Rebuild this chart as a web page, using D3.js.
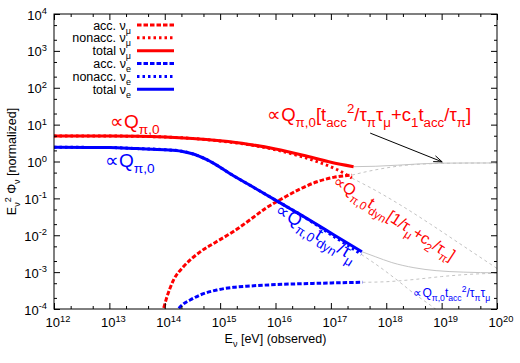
<!DOCTYPE html>
<html lang="en">
<head>
<meta charset="utf-8">
<title>Neutrino spectra</title>
<script src="https://cdn.jsdelivr.net/npm/d3@7"></script>
<style>
  body { margin: 0; background: #fff; }
  svg { font-family: "Liberation Sans", Arial, sans-serif; }
  .tick text { display: none; }
  .domain { display: none; }
</style>
</head>
<body>
<script>
// axis decades (log10)
var xDecades = [12, 13, 14, 15, 16, 17, 18, 19, 20];
var yDecades = [-4, -3, -2, -1, 0, 1, 2, 3, 4];

// curves: log10(E/eV) and log10(flux)
var totMuE = [12, 13, 13.5, 14, 14.5, 15, 15.5, 16, 16.5, 17, 17.41];
var totMuF = [0.69, 0.69, 0.685, 0.665, 0.625, 0.56, 0.47, 0.34, 0.17, -0.02, -0.14];
var nonMuE = [12, 13, 14, 15, 15.5, 16, 16.5, 16.8, 17.1, 17.38];
var nonMuF = [0.69, 0.69, 0.665, 0.555, 0.46, 0.32, 0.12, -0.03, -0.21, -0.45];
var accMuE = [13.9, 13.975, 14.04, 14.16, 14.34, 14.64, 14.94, 15.24, 15.54, 15.84, 16.14, 16.45, 16.75, 17.05, 17.38];
var accMuF = [-4.3, -4.0, -3.67, -3.21, -2.85, -2.45, -2.17, -1.9, -1.58, -1.25, -0.99, -0.74, -0.55, -0.43, -0.37];

var totEE = [12, 13, 13.5, 14, 14.3, 14.5, 14.76, 15.24, 15.54, 15.84, 16.14, 16.45, 16.75, 17.05, 17.56];
var totEF = [0.385, 0.38, 0.35, 0.32, 0.28, 0.21, 0.05, -0.385, -0.646, -0.908, -1.17, -1.44, -1.71, -1.985, -2.446];
var nonEE = [12, 13, 13.5, 14, 14.3, 14.5, 14.76, 15.24, 15.54, 15.84, 16.14, 16.45, 16.75, 17.05, 17.3, 17.55];
var nonEF = [0.385, 0.38, 0.35, 0.32, 0.28, 0.21, 0.05, -0.385, -0.646, -0.908, -1.17, -1.44, -1.73, -2.03, -2.27, -2.52];
var accEE = [14.15, 14.247, 14.337, 14.458, 14.639, 14.941, 15.241, 15.542, 16.144, 16.748, 17.1, 17.57];
var accEF = [-4.3, -4.0, -3.864, -3.756, -3.62, -3.485, -3.412, -3.376, -3.33, -3.303, -3.29, -3.276];

// thin grey extrapolations
var gTotMuE = [17.41, 17.8, 18.2, 18.6, 19, 19.5, 20];
var gTotMuF = [-0.14, -0.13, -0.1, -0.065, -0.045, -0.04, -0.04];
var gAccMuE = [17.38, 17.6, 17.9, 18.3, 18.8, 19.3, 20];
var gAccMuF = [-0.37, -0.29, -0.2, -0.11, -0.06, -0.045, -0.04];
var gNonMuE = [17.38, 17.8, 18.3, 18.8, 19.3, 20];
var gNonMuF = [-0.45, -0.78, -1.22, -1.7, -2.2, -2.9];
var gTotEE = [17.56, 17.8, 18.1, 18.5, 18.9, 19.4, 20];
var gTotEF = [-2.446, -2.58, -2.74, -2.88, -2.96, -3.0, -3.02];
var gAccEE = [17.57, 18.0, 18.5, 19.0, 19.5, 20];
var gAccEF = [-3.276, -3.26, -3.2, -3.12, -3.06, -3.03];
var gNonEE = [17.55, 17.9, 18.2, 18.5, 18.8, 19.1];
var gNonEF = [-2.52, -2.88, -3.22, -3.58, -3.9, -4.25];

var W = 520, H = 363;
var L = 54, R = 497, T = 14, B = 309;

var x = d3.scaleLog().domain([1e12, 1e20]).range([L, R]);
var y = d3.scaleLog().domain([1e-4, 1e4]).range([B, T]);

var svg = d3.select("body").append("svg")
	.attr("width", W)
	.attr("height", H);

svg.append("defs").append("clipPath").attr("id", "plot")
	.append("rect").attr("x", L).attr("y", T).attr("width", R - L).attr("height", B - T);

function pts(es, fs) {
	return es.map(function(e, i) { return [Math.pow(10, e), Math.pow(10, fs[i])]; });
}

var line = d3.line()
	.x(function(d) { return x(d[0]); })
	.y(function(d) { return y(d[1]); })
	.curve(d3.curveMonotoneX);

var DASH = "4.5,2", DOT = "2.5,3";

var grey = [
	[gTotMuE, gTotMuF, null], [gAccMuE, gAccMuF, "3,3"], [gNonMuE, gNonMuF, "3,3"],
	[gTotEE, gTotEF, null], [gAccEE, gAccEF, "3,3"], [gNonEE, gNonEF, "3,3"]
];
var series = [
	[accMuE, accMuF, "#ff0000", DASH],
	[nonMuE, nonMuF, "#ff0000", DOT],
	[accEE, accEF, "#0000ff", DASH],
	[nonEE, nonEF, "#0000ff", DOT],
	[totMuE, totMuF, "#ff0000", null],
	[totEE, totEF, "#0000ff", null]
];

var plot = svg.append("g").attr("clip-path", "url(#plot)");

plot.selectAll("path.grey")
	.data(grey)
	.enter().append("path")
	.attr("class", "grey")
	.attr("d", function(s) { return line(pts(s[0], s[1])); })
	.attr("fill", "none")
	.attr("stroke", "#c4c4c4")
	.attr("stroke-width", 1)
	.attr("stroke-dasharray", function(s) { return s[2]; });

plot.selectAll("path.curve")
	.data(series)
	.enter().append("path")
	.attr("class", "curve")
	.attr("d", function(s) { return line(pts(s[0], s[1])); })
	.attr("fill", "none")
	.attr("stroke", function(s) { return s[2]; })
	.attr("stroke-width", 3)
	.attr("stroke-dasharray", function(s) { return s[3]; });

// ticks on all four sides, majors at decades, minors at 2 and 5
var xMajor = xDecades.map(function(k) { return Math.pow(10, k); });
var yMajor = yDecades.map(function(k) { return Math.pow(10, k); });
var xMinor = [], yMinor = [];
xDecades.slice(0, -1).forEach(function(k) { xMinor.push(2 * Math.pow(10, k), 5 * Math.pow(10, k)); });
yDecades.slice(0, -1).forEach(function(k) { yMinor.push(2 * Math.pow(10, k), 5 * Math.pow(10, k)); });

function ticks(axis, scale, vals, size, tr) {
	svg.append("g")
		.attr("transform", tr)
		.call(axis(scale).tickValues(vals).tickSize(-size).tickSizeOuter(0).tickFormat(""))
		.selectAll("line").attr("stroke", "#000");
}
[[xMajor, 6], [xMinor, 3]].forEach(function(t) {
	ticks(d3.axisBottom, x, t[0], t[1], "translate(0," + B + ")");
	ticks(d3.axisTop, x, t[0], t[1], "translate(0," + T + ")");
});
[[yMajor, 6], [yMinor, 3]].forEach(function(t) {
	ticks(d3.axisLeft, y, t[0], t[1], "translate(" + L + ",0)");
	ticks(d3.axisRight, y, t[0], t[1], "translate(" + R + ",0)");
});

svg.append("rect")
	.attr("x", L).attr("y", T).attr("width", R - L).attr("height", B - T)
	.attr("fill", "none").attr("stroke", "#000").attr("stroke-width", 1);

// rich text: parts are [text, shift] with shift -1 sub, 1 super, 0 normal
function rich(sel, parts, size) {
	var cur = 0;
	parts.forEach(function(p) {
		var off = p[1] === -1 ? 0.32 * size : p[1] === 1 ? -0.42 * size : 0;
		sel.append("tspan")
			.attr("dy", off - cur)
			.attr("font-size", p[1] ? size * 0.72 : size)
			.text(p[0]);
		cur = off;
	});
	return sel;
}

// tick labels
var TF = 13;
xDecades.forEach(function(k) {
	var t = svg.append("text")
		.attr("x", x(Math.pow(10, k)) + 4)
		.attr("y", B + 18)
		.attr("text-anchor", "middle")
		.attr("fill", "#000");
	rich(t, [["10", 0], [String(k), 1]], TF);
});
yDecades.forEach(function(k) {
	var t = svg.append("text")
		.attr("x", L - 7)
		.attr("y", y(Math.pow(10, k)) + 5.5)
		.attr("text-anchor", "end")
		.attr("fill", "#000");
	rich(t, [["10", 0], [String(k), 1]], TF);
});

// axis titles
rich(svg.append("text")
	.attr("x", (L + R) / 2)
	.attr("y", 343)
	.attr("text-anchor", "middle"),
	[["E", 0], ["ν", -1], [" [eV] (observed)", 0]], 12.5);

rich(svg.append("text")
	.attr("transform", "translate(16," + ((T + B) / 2) + ") rotate(-90)")
	.attr("text-anchor", "middle"),
	[["E", 0], ["ν", -1], ["2", 1], [" Φ", 0], ["ν", -1], [" [normalized]", 0]], 12.5);

// legend
var legend = [
	["acc. ν", "μ", "#ff0000", DASH],
	["nonacc. ν", "μ", "#ff0000", DOT],
	["total ν", "μ", "#ff0000", null],
	["acc. ν", "e", "#0000ff", DASH],
	["nonacc. ν", "e", "#0000ff", DOT],
	["total ν", "e", "#0000ff", null]
];
var lg = svg.selectAll("g.legend")
	.data(legend)
	.enter().append("g")
	.attr("class", "legend")
	.attr("transform", function(d, i) { return "translate(0," + (25 + i * 12.85) + ")"; });
lg.append("line")
	.attr("x1", 137).attr("x2", 174)
	.attr("stroke", function(d) { return d[2]; })
	.attr("stroke-width", 3)
	.attr("stroke-dasharray", function(d) { return d[3]; });
lg.each(function(d) {
	rich(d3.select(this).append("text")
		.attr("x", 131).attr("y", 4.5)
		.attr("text-anchor", "end"),
		[[d[0], 0], [d[1], -1]], 12.5);
});

// annotations, placed in data coordinates (log10 E, log10 flux)
function at(le, lf) { return [x(Math.pow(10, le)), y(Math.pow(10, lf))]; }
function note(le, lf, rot, color, parts, size) {
	var p = at(le, lf);
	var t = svg.append("text")
		.attr("transform", "translate(" + p[0] + "," + p[1] + ") rotate(" + rot + ")")
		.attr("fill", color);
	rich(t, parts, size);
}

note(13.01, 0.9, 0, "#ff0000", [["∝Q", 0], ["π,0", -1]], 19);
note(12.92, -0.15, 0, "#0000ff", [["∝Q", 0], ["π,0", -1]], 19);
note(15.85, 1.1, 0, "#ff0000",
	[["∝Q", 0], ["π,0", -1], ["[t", 0], ["acc", -1], ["2", 1], ["/τ", 0], ["π", -1], ["τ", 0], ["μ", -1],
	 ["+c", 0], ["1", -1], ["t", 0], ["acc", -1], ["/τ", 0], ["π", -1], ["]", 0]], 18.5);
note(17.02, -0.61, 33, "#ff0000",
	[["∝Q", 0], ["π,0", -1], ["t", 0], ["dyn", -1], ["[1/τ", 0], ["μ", -1], ["+c", 0], ["2", -1], ["/τ", 0], ["π", -1], ["]", 0]], 16);
note(15.98, -1.4, 32, "#0000ff",
	[["∝Q", 0], ["π,0", -1], ["t", 0], ["dyn", -1], ["/τ", 0], ["μ", -1]], 18);
note(18.49, -3.67, 0, "#0000ff",
	[["∝Q", 0], ["π,0", -1], ["t", 0], ["acc", -1], ["2", 1], ["/τ", 0], ["π", -1], ["τ", 0], ["μ", -1]], 12);

// arrow
var a0 = at(17.71, 0.77), a1 = at(19.01, -0.01);
var ang = Math.atan2(a1[1] - a0[1], a1[0] - a0[0]), hl = 9, hw = 0.35;
svg.append("path")
	.attr("d", "M" + a0 + "L" + a1 +
		"M" + [a1[0] - hl * Math.cos(ang - hw), a1[1] - hl * Math.sin(ang - hw)] + "L" + a1 +
		"L" + [a1[0] - hl * Math.cos(ang + hw), a1[1] - hl * Math.sin(ang + hw)])
	.attr("fill", "none")
	.attr("stroke", "#000")
	.attr("stroke-width", 1);
</script>
</body>
</html>
